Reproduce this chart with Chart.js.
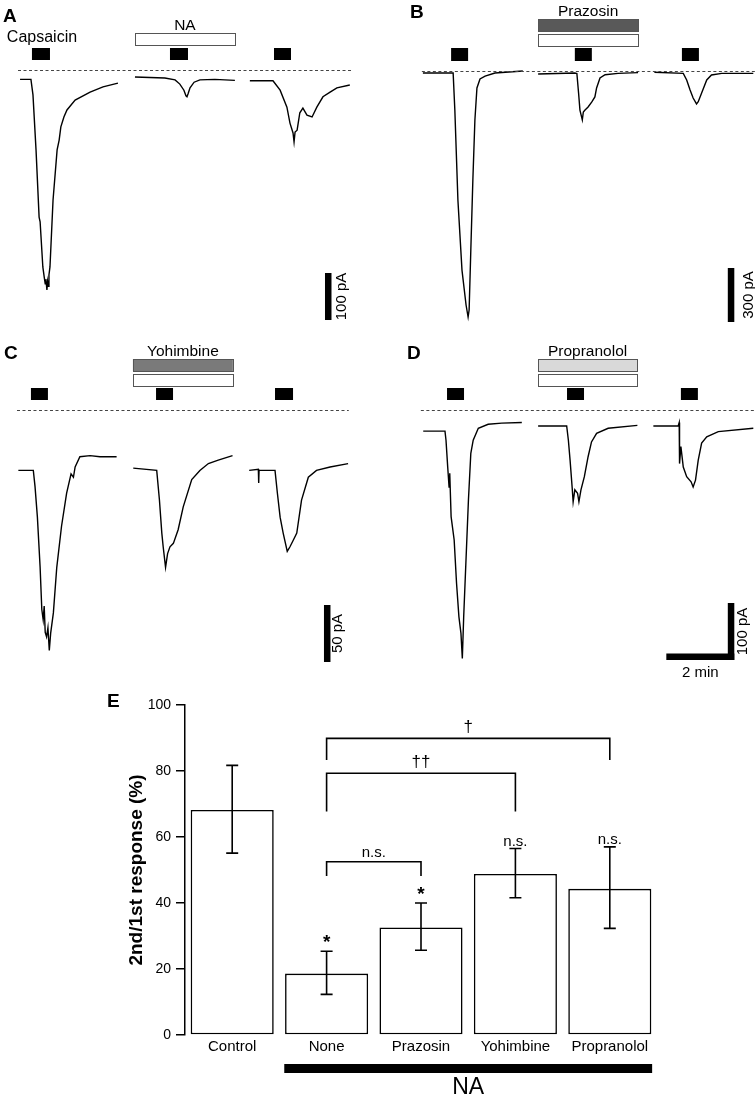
<!DOCTYPE html>
<html><head><meta charset="utf-8">
<script src="https://cdn.jsdelivr.net/npm/chart.js@4.4.1/dist/chart.umd.min.js"></script>
<style>
html,body{margin:0;padding:0;background:#fff;}
body{width:755px;height:1096px;position:relative;overflow:hidden;}
canvas{position:absolute;}
</style></head>
<body>
<canvas id="cA" width="377" height="335" style="left:0;top:0"></canvas>
<canvas id="cB" width="378" height="335" style="left:377px;top:0"></canvas>
<canvas id="cC" width="377" height="335" style="left:0;top:335px"></canvas>
<canvas id="cD" width="378" height="345" style="left:377px;top:335px"></canvas>
<canvas id="cE" width="755" height="416" style="left:0;top:680px"></canvas>
<script>
// ---------------- Panel E data ----------------
const categories   = ['Control', 'None', 'Prazosin', 'Yohimbine', 'Propranolol'];
const meanResponse = [68.2, 18.6, 32.6, 48.8, 44.3];
const errLow       = [55.1, 12.3, 25.7, 41.6, 32.3];
const errHigh      = [81.7, 25.4, 40.0, 56.5, 57.0];
const sigMarks     = ['', '*', '*', 'n.s.', 'n.s.'];
const yTicks       = [0, 20, 40, 60, 80, 100];
const bracketFrom  = [1, 1, 1];
const bracketTo    = [4, 3, 2];
const bracketTop   = [89.9, 79.3, 52.5];
const bracketLeg   = [83.3, 67.7, 48.2];
const bracketLabel = ['\u2020', '\u2020\u2020', 'n.s.'];

// ---------------- Traces: time (min), current (pA, 0 = dashed line) ----------------
const timeA1 = [0.59,0.91,0.97,1.06,1.15,1.18,1.26,1.30,1.33,1.35,1.38,1.40,1.42,1.44,1.47,1.56,1.68,1.74,1.79,1.88,1.97,2.21,2.65,3.03,3.47];
const currA1 = [-20,-20,-53,-170,-313,-323,-419,-440,-455,-445,-468,-450,-460,-436,-419,-277,-170,-149,-121,-100,-85,-64,-47,-36,-28];
const timeA2 = [3.97,4.41,4.85,5.15,5.29,5.41,5.47,5.50,5.53,5.59,5.71,5.88,6.32,6.91];
const currA2 = [-15,-16,-17,-21,-30,-43,-55,-57,-51,-38,-26,-21,-20,-22];
const timeA3 = [7.35,8.03,8.24,8.44,8.53,8.62,8.65,8.68,8.74,8.82,8.91,9.03,9.18,9.32,9.50,9.71,9.91,10.29];
const currA3 = [-23,-23,-43,-79,-113,-134,-153,-132,-128,-91,-81,-96,-100,-79,-57,-47,-38,-32];

const timeB1 = [1.35,2.24,2.29,2.38,2.50,2.62,2.68,2.71,2.76,2.82,2.88,2.94,3.03,3.18,3.47,4.29];
const currB1 = [-11,-11,-217,-717,-1106,-1300,-1367,-1328,-994,-606,-272,-94,-44,-28,-11,0];
const timeB2 = [4.74,5.82,5.88,5.93,5.97,6.02,6.04,6.07,6.12,6.21,6.32,6.41,6.46,6.56,6.71,7.09,7.68];
const currB2 = [-17,-11,-14,-122,-217,-256,-272,-228,-217,-200,-172,-144,-94,-39,-21,-13,-9];
const timeB3 = [8.16,9.01,9.11,9.21,9.30,9.40,9.45,9.55,9.70,9.84,10.14,11.07];
const currB3 = [-7,-13,-50,-106,-150,-183,-171,-122,-50,-22,-13,-13];

const timeC1 = [0.54,0.98,1.03,1.10,1.18,1.23,1.27,1.30,1.33,1.37,1.41,1.45,1.49,1.57,1.67,1.81,1.96,2.09,2.16,2.21,2.35,2.65,2.94,3.43];
const currC1 = [-53,-53,-67,-94,-138,-175,-184,-172,-195,-199,-191,-211,-196,-178,-138,-102,-73,-56,-59,-50,-41,-40,-41,-41];
const timeC2 = [3.92,4.61,4.69,4.76,4.80,4.87,4.93,5.00,5.10,5.24,5.39,5.64,5.88,6.13,6.42,6.84];
const currC2 = [-51,-53,-79,-108,-120,-138,-126,-120,-117,-105,-85,-61,-53,-47,-44,-40];
const timeC3 = [7.33,7.60,7.61,7.62,8.09,8.16,8.24,8.33,8.45,8.53,8.63,8.73,8.87,9.07,9.31,9.71,10.24];
const currC3 = [-53,-52,-64,-53,-53,-73,-94,-108,-124,-120,-114,-108,-79,-59,-53,-50,-47];

const timeD1 = [1.36,2.00,2.03,2.08,2.12,2.14,2.18,2.27,2.34,2.41,2.47,2.51,2.55,2.61,2.69,2.76,2.83,2.98,3.27,3.67,4.26];
const currD1 = [-37,-37,-53,-100,-135,-111,-187,-228,-304,-363,-392,-436,-363,-275,-158,-76,-53,-32,-25,-23,-22];
const timeD2 = [4.74,5.58,5.63,5.68,5.74,5.77,5.82,5.90,5.94,6.00,6.10,6.21,6.31,6.46,6.80,7.66];
const currD2 = [-28,-28,-53,-88,-135,-161,-140,-146,-161,-140,-117,-82,-56,-41,-32,-27];
const timeD3 = [8.13,8.86,8.89,8.90,8.94,9.01,9.11,9.24,9.30,9.37,9.45,9.55,9.70,10.04,11.07];
const currD3 = [-28,-28,-22,-94,-64,-100,-117,-126,-135,-123,-88,-58,-47,-38,-32];

// ---------------- common ----------------
const FONT = 'Arial, "Liberation Sans", Helvetica, sans-serif';
Chart.defaults.font.family = FONT;
Chart.defaults.color = '#000';
Chart.defaults.animation = false;

function pts(t, c) { return t.map((x, i) => ({x: x, y: c[i]})); }

const decorPlugin = {
  id: 'decor',
  afterDraw(chart, args, o) {
    const ctx = chart.ctx, sx = chart.scales.x, sy = chart.scales.y;
    const X = v => sx.getPixelForValue(v);
    ctx.save();
    const y0 = Math.round(sy.getPixelForValue(0)) + 0.5;
    ctx.strokeStyle = '#444'; ctx.lineWidth = 1; ctx.setLineDash([3, 2.5]);
    ctx.beginPath(); ctx.moveTo(X(o.dash[0]), y0); ctx.lineTo(X(o.dash[1]), y0); ctx.stroke();
    ctx.setLineDash([]);
    ctx.fillStyle = '#000';
    o.stim.forEach(s => ctx.fillRect(X(s[0]), o.stimY[0], X(s[1]) - X(s[0]), o.stimY[1] - o.stimY[0]));
    o.drugs.forEach(d => {
      const x1 = X(d.t[0]), x2 = X(d.t[1]);
      ctx.fillStyle = d.fill; ctx.fillRect(x1, d.y[0], x2 - x1, d.y[1] - d.y[0]);
      ctx.strokeStyle = '#555'; ctx.lineWidth = 1;
      ctx.strokeRect(Math.round(x1) + 0.5, d.y[0] + 0.5, Math.round(x2 - x1), d.y[1] - d.y[0]);
      if (d.label) {
        ctx.fillStyle = '#000'; ctx.font = '15.5px ' + FONT; ctx.textAlign = 'center'; ctx.textBaseline = 'alphabetic';
        ctx.fillText(d.label, (x1 + x2) / 2, d.labelY);
      }
    });
    ctx.fillStyle = '#000'; ctx.textAlign = 'left'; ctx.textBaseline = 'alphabetic';
    ctx.font = 'bold 19px ' + FONT; ctx.fillText(o.letter[0], o.letter[1], o.letter[2]);
    (o.texts || []).forEach(t => { ctx.font = t.font + ' ' + FONT; ctx.textAlign = 'center'; ctx.fillText(t.text, t.x, t.y); });
    const sb = o.scale;
    const len = sy.getPixelForValue(-sb.pA) - sy.getPixelForValue(0);
    const bx = X(sb.t);
    ctx.fillStyle = '#000';
    ctx.fillRect(bx, sb.top, sb.w, len);
    ctx.save(); ctx.translate(sb.labelX, sb.top + len / 2); ctx.rotate(-Math.PI / 2);
    ctx.font = '15px ' + FONT; ctx.textAlign = 'center'; ctx.textBaseline = 'middle';
    ctx.fillText(sb.label, 0, 0); ctx.restore();
    if (sb.minutes) {
      const hl = X(sb.minutes) - X(0);
      ctx.fillRect(bx + sb.w - hl, sb.top + len - sb.w, hl, sb.w);
      ctx.font = '15px ' + FONT; ctx.textAlign = 'center'; ctx.textBaseline = 'alphabetic';
      ctx.fillText(sb.minLabel, bx + sb.w - hl / 2, sb.minLabelY);
    }
    ctx.restore();
  }
};

function tracePanel(id, traces, xMax, yMin, yMax, decor) {
  new Chart(document.getElementById(id), {
    type: 'line',
    data: { datasets: traces.map(tr => ({ data: pts(tr[0], tr[1]), borderColor: '#000', borderWidth: 1.4, pointRadius: 0, tension: 0, fill: false })) },
    options: {
      responsive: false, animation: false, events: [],
      layout: { padding: 0 },
      plugins: { legend: { display: false }, tooltip: { enabled: false }, decor: decor },
      scales: {
        x: { type: 'linear', min: 0, max: xMax, display: false },
        y: { type: 'linear', min: yMin, max: yMax, display: false }
      }
    },
    plugins: [decorPlugin]
  });
}

tracePanel('cA', [[timeA1, currA1], [timeA2, currA2], [timeA3, currA3]], 11.09, -563.8, 148.9, {
  dash: [0.53, 10.35],
  stim: [[0.94, 1.47], [5.0, 5.53], [8.06, 8.56]], stimY: [48, 60],
  drugs: [{ t: [3.97, 6.91], y: [33, 45], fill: '#fff', label: 'NA', labelY: 30 }],
  letter: ['A', 3, 22],
  texts: [{ text: 'Capsaicin', x: 42, y: 42, font: '16px' }],
  scale: { t: 9.56, top: 273, w: 6.5, pA: 100, label: '100 pA', labelX: 342 }
});
tracePanel('cB', [[timeB1, currB1], [timeB2, currB2], [timeB3, currB3]], 11.12, -1466.7, 394.4, {
  dash: [1.32, 11.12],
  stim: [[2.18, 2.68], [5.82, 6.32], [8.97, 9.47]], stimY: [48, 61],
  drugs: [{ t: [4.74, 7.68], y: [19, 31], fill: '#595959', label: 'Prazosin', labelY: 16 },
          { t: [4.74, 7.68], y: [34, 46], fill: '#fff' }],
  letter: ['B', 33, 18],
  scale: { t: 10.32, top: 268, w: 6.5, pA: 300, label: '300 pA', labelX: 372 }
});
tracePanel('cC', [[timeC1, currC1], [timeC2, currC2], [timeC3, currC3]], 11.09, -228.1, 65.8, {
  dash: [0.5, 10.26],
  stim: [[0.91, 1.41], [4.59, 5.09], [8.09, 8.62]], stimY: [53, 65],
  drugs: [{ t: [3.91, 6.85], y: [24, 36], fill: '#7a7a7a', label: 'Yohimbine', labelY: 21 },
          { t: [3.91, 6.85], y: [39, 51], fill: '#fff' }],
  letter: ['C', 4, 24],
  scale: { t: 9.53, top: 270, w: 6.5, pA: 50, label: '50 pA', labelX: 338 }
});
tracePanel('cD', [[timeD1, currD1], [timeD2, currD2], [timeD3, currD3]], 11.12, -473.7, 131.6, {
  dash: [1.29, 11.12],
  stim: [[2.06, 2.56], [5.59, 6.09], [8.94, 9.44]], stimY: [53, 65],
  drugs: [{ t: [4.74, 7.65], y: [24, 36], fill: '#d9d9d9', label: 'Propranolol', labelY: 21 },
          { t: [4.74, 7.65], y: [39, 51], fill: '#fff' }],
  letter: ['D', 30, 24],
  scale: { t: 10.32, top: 268, w: 6.5, pA: 100, label: '100 pA', labelX: 366, minutes: 2, minLabel: '2 min', minLabelY: 342 }
});

// ---------------- Panel E ----------------
const ePlugin = {
  id: 'eDecor',
  afterDatasetsDraw(chart) {
    const ctx = chart.ctx, sx = chart.scales.x, sy = chart.scales.y;
    const meta = chart.getDatasetMeta(0);
    const Y = v => sy.getPixelForValue(v);
    ctx.save();
    ctx.strokeStyle = '#000'; ctx.fillStyle = '#000'; ctx.lineWidth = 1.6; ctx.lineCap = 'butt';
    categories.forEach((c, i) => {
      const x = sx.getPixelForValue(i), yl = Y(errLow[i]), yh = Y(errHigh[i]);
      ctx.beginPath();
      ctx.moveTo(x, yl); ctx.lineTo(x, yh);
      ctx.moveTo(x - 6, yl); ctx.lineTo(x + 6, yl);
      ctx.moveTo(x - 6, yh); ctx.lineTo(x + 6, yh);
      ctx.stroke();
      if (sigMarks[i]) {
        ctx.textAlign = 'center'; ctx.textBaseline = 'alphabetic';
        ctx.font = (sigMarks[i] === '*' ? 'bold 19px ' : '15px ') + FONT;
        ctx.fillText(sigMarks[i], x, yh - 3);
      }
    });
    bracketFrom.forEach((f, k) => {
      const x1 = sx.getPixelForValue(f), x2 = sx.getPixelForValue(bracketTo[k]);
      const yt = Y(bracketTop[k]), yb = Y(bracketLeg[k]);
      ctx.beginPath(); ctx.moveTo(x1, yb); ctx.lineTo(x1, yt); ctx.lineTo(x2, yt); ctx.lineTo(x2, yb); ctx.stroke();
      ctx.textAlign = 'center'; ctx.textBaseline = 'alphabetic';
      ctx.font = (bracketLabel[k] === 'n.s.' ? '15px ' : '17px ') + FONT;
      ctx.fillText(bracketLabel[k], (x1 + x2) / 2, yt - (bracketLabel[k] === 'n.s.' ? 5 : 6));
    });
    const b1 = meta.data[1], b4 = meta.data[4];
    const left = b1.x - b1.width / 2 - 0.8, right = b4.x + b4.width / 2 + 0.8;
    const bottom = chart.chartArea.bottom;
    ctx.fillRect(left, bottom + 29, right - left, 9);
    ctx.font = '23px ' + FONT; ctx.textAlign = 'center'; ctx.textBaseline = 'alphabetic';
    ctx.fillText('NA', (left + right) / 2, bottom + 59);
    ctx.textAlign = 'left'; ctx.font = 'bold 19px ' + FONT;
    ctx.fillText('E', 107, 27);
    ctx.restore();
  }
};

new Chart(document.getElementById('cE'), {
  type: 'bar',
  data: {
    labels: categories,
    datasets: [{
      data: meanResponse, backgroundColor: '#fff', borderColor: '#000', borderWidth: 1.6,
      borderSkipped: false, barPercentage: 0.88, categoryPercentage: 1
    }]
  },
  options: {
    responsive: false, animation: false, events: [],
    layout: { padding: { left: 121, right: 98, top: 25, bottom: 0 } },
    plugins: { legend: { display: false }, tooltip: { enabled: false } },
    scales: {
      x: {
        grid: { display: false, drawTicks: false }, border: { display: false },
        ticks: { font: { size: 15 }, color: '#000', padding: 3, maxRotation: 0, autoSkip: false },
        afterFit: s => { s.height = 61; }
      },
      y: {
        min: 0, max: 100,
        afterBuildTicks: s => { s.ticks = yTicks.map(v => ({ value: v })); },
        ticks: { font: { size: 14 }, color: '#000', padding: 5 },
        grid: { display: true, drawOnChartArea: false, drawTicks: true, tickLength: 9, color: '#000', lineWidth: 1.5 },
        border: { display: true, color: '#000', width: 1.5 },
        title: { display: true, text: '2nd/1st response (%)', font: { size: 19, weight: 'bold' }, color: '#000', padding: { top: 4, bottom: 4 } },
        afterFit: s => { s.width = 64; }
      }
    }
  },
  plugins: [ePlugin]
});
</script>
</body></html>
